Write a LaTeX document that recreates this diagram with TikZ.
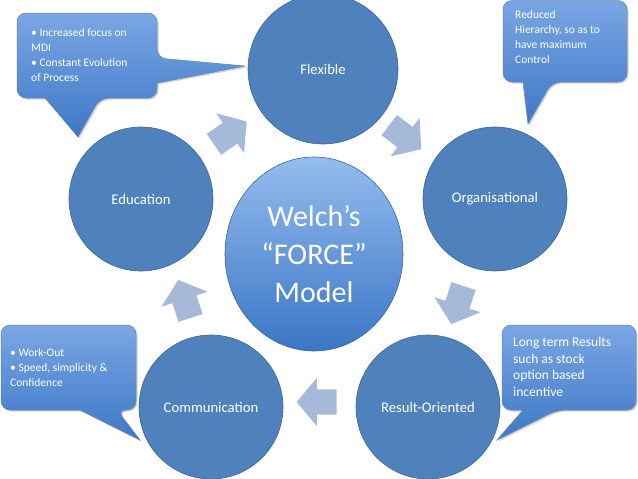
\documentclass[tikz,border=0pt]{standalone}
\usepackage{fontspec}
\setmainfont{Carlito}
\usepackage{tikz}
\usetikzlibrary{positioning,shapes.geometric,shapes.arrows,shadows}
\usepackage{xcolor}
\definecolor{PetalBlue}{RGB}{79,129,189}
\definecolor{PetalEdge}{RGB}{62,102,152}
\definecolor{HubTop}{RGB}{148,188,238}
\definecolor{HubBottom}{RGB}{58,118,198}
\definecolor{BubbleTop}{RGB}{122,166,228}
\definecolor{BubbleBottom}{RGB}{62,120,198}
\definecolor{FlowGray}{RGB}{167,185,216}

\begin{document}
\begin{tikzpicture}[x=1pt, y=-1pt,
    petal/.style={circle, draw=PetalEdge, line width=0.6pt, fill=PetalBlue,
                  minimum size=144pt, inner sep=0pt, text=white,
                  font=\fontsize{14.7}{17}\selectfont},
    hub/.style={ellipse, draw=PetalEdge, line width=0.6pt, top color=HubTop,
                bottom color=HubBottom, minimum width=178pt, minimum height=194pt,
                inner sep=0pt, text=white, align=center,
                font=\fontsize{30}{38}\selectfont},
    flow/.style={single arrow, fill=FlowGray, draw=none, minimum height=40pt,
                 minimum width=48pt, single arrow head extend=11.5pt,
                 single arrow tip angle=100, inner xsep=0pt, inner ysep=12.5pt},
    bubble/.style={draw=PetalEdge!80, line width=0.5pt, top color=BubbleTop,
                   bottom color=BubbleBottom,
                   drop shadow={opacity=0.35, shadow xshift=1.5pt, shadow yshift=-1.5pt}},
    note/.style={anchor=north west, text=white, align=left, inner sep=0pt,
                 font=\fontsize{11.5}{15}\selectfont},
]
    \useasboundingbox (0,0) rectangle (638,479);
    \clip (0,0) rectangle (638,479);
    \fill[white] (0,0) rectangle (638,479);

    % the five FORCE circles
    \node[petal, minimum size=150pt] (flex) at (323,69) {Flexible};
    \node[petal] (org) at (495,199) {Organisational};
    \node[petal] (res) at (428,407) {Result-Oriented};
    \node[petal] (comm) at (211,407) {Communication};
    \node[petal] (edu) at (141,199) {Education};
    \node[hub] (hub) at (314,254) {Welch’s\\“FORCE”\\Model};

    % block arrows between the circles
    \node[flow, rotate=35] (f1) at (226,136) {};
    \node[flow, rotate=-37] (f2) at (401,134) {};
    \node[flow, rotate=-108] (f3) at (459,300) {};
    \node[flow, rotate=180] (f4) at (322,402) {};
    \node[flow, rotate=108] (f5) at (186,304) {};

    % callouts
    \path[bubble, rounded corners=9pt] (60,13) -- (157,13) -- (157,58)
        [sharp corners] -- (245,66) -- (157,83) [rounded corners=9pt] -- (157,98)
        -- (100,98) [sharp corners] -- (78,137) -- (45,98)
        [rounded corners=9pt] -- (17,98) -- (17,13) -- cycle;
    \path[bubble, rounded corners=9pt] (560,0.5) -- (627,0.5) -- (627,82)
        -- (552,82) [sharp corners] -- (528,124) -- (523,82)
        [rounded corners=9pt] -- (503,82) -- (503,0.5) -- cycle;
    \path[bubble, rounded corners=9pt] (60,325) -- (136,325) -- (136,410)
        -- (117,410) [sharp corners] -- (140,440) -- (80,410)
        [rounded corners=9pt] -- (1,410) -- (1,325) -- cycle;
    \path[bubble, rounded corners=9pt] (570,325) -- (636,325) -- (636,410)
        -- (557,410) [sharp corners] -- (497,440) -- (523,410)
        [rounded corners=9pt] -- (502,410) -- (502,325) -- cycle;

    \node[note] (n1) at (31,28) {• Increased focus on\\MDI\\• Constant Evolution\\of Process};
    \node[note] (n2) at (515,10) {Reduced\\Hierarchy, so as to\\have maximum\\Control};
    \node[note] (n3) at (10,348) {• Work-Out\\• Speed, simplicity \&\\Confidence};
    \node[note, font=\fontsize{13.5}{16.7}\selectfont] (n4) at (513,337)
        {Long term Results\\such as stock\\option based\\incentive};
\end{tikzpicture}
\end{document}
